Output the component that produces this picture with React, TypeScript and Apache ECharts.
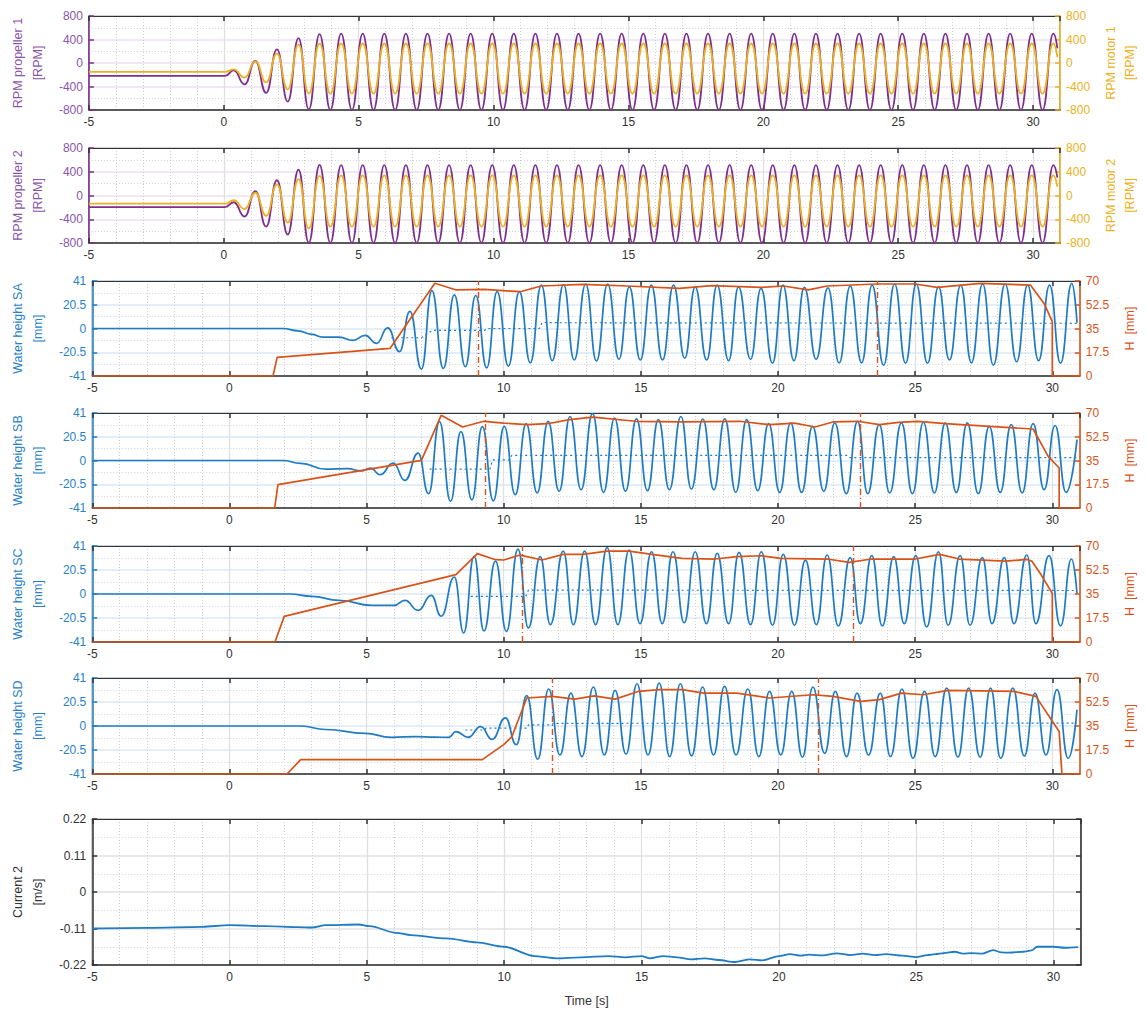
import React, { useEffect, useRef } from "react";
import * as echarts from "echarts";

// ---------- DATA ----------
const xTickLabels = [-5, 0, 5, 10, 15, 20, 25, 30];

// extremum times shared by the four RPM traces
const rpmTimes = [
  -5, 0.05, 0.37, 0.77, 1.17, 1.57, 1.97, 2.37, 2.77, 3.15, 3.55,
  3.95, 4.35, 4.75, 5.15, 5.55, 5.95, 6.35, 6.75, 7.15, 7.55,
  7.95, 8.35, 8.75, 9.15, 9.55, 9.95, 10.35, 10.75, 11.15, 11.55,
  11.95, 12.35, 12.75, 13.15, 13.55, 13.95, 14.35, 14.75, 15.15, 15.55,
  15.95, 16.35, 16.75, 17.15, 17.55, 17.95, 18.35, 18.75, 19.15, 19.55,
  19.95, 20.35, 20.75, 21.15, 21.55, 21.95, 22.35, 22.75, 23.15, 23.55,
  23.95, 24.35, 24.75, 25.15, 25.55, 25.95, 26.35, 26.75, 27.15, 27.55,
  27.95, 28.35, 28.75, 29.15, 29.55, 29.95, 30.35, 30.75, 30.9,
];

const prop1Rpm = [
  -220, -220, -125, -363, 34, -510, 232, -657, 425, -790, 493,
  -798, 500, -798, 500, -798, 500, -798, 500, -798, 500,
  -798, 500, -798, 500, -798, 500, -798, 500, -798, 500,
  -798, 500, -798, 500, -798, 500, -798, 500, -798, 500,
  -798, 500, -798, 500, -798, 500, -798, 500, -798, 500,
  -798, 500, -798, 500, -798, 500, -798, 500, -798, 500,
  -798, 500, -798, 500, -798, 500, -798, 500, -798, 500,
  -798, 500, -798, 500, -798, 500, -798, 500, 250,
];
const motor1Rpm = [
  -150, -150, -110, -250, 28, -330, 160, -450, 312, -520, 330,
  -520, 332, -520, 332, -520, 332, -520, 332, -520, 332,
  -520, 332, -520, 332, -520, 332, -520, 332, -520, 332,
  -520, 332, -520, 332, -520, 332, -520, 332, -520, 332,
  -520, 332, -520, 332, -520, 332, -520, 332, -520, 332,
  -520, 332, -520, 332, -520, 332, -520, 332, -520, 332,
  -520, 332, -520, 332, -520, 332, -520, 332, -520, 332,
  -520, 332, -520, 332, -520, 332, -520, 332, 100,
];
const prop2Rpm = [
  -195, -195, -114, -354, 74, -525, 257, -657, 434, -795, 514,
  -798, 510, -798, 510, -798, 510, -798, 510, -798, 510,
  -798, 510, -798, 510, -798, 510, -798, 510, -798, 510,
  -798, 510, -798, 510, -798, 510, -798, 510, -798, 510,
  -798, 510, -798, 510, -798, 510, -798, 510, -798, 510,
  -798, 510, -798, 510, -798, 510, -798, 510, -798, 510,
  -798, 510, -798, 510, -798, 510, -798, 510, -798, 510,
  -798, 510, -798, 510, -798, 510, -798, 510, 300,
];
const motor2Rpm = [
  -137, -137, -80, -228, 46, -343, 189, -457, 274, -554, 331,
  -525, 340, -525, 340, -525, 340, -525, 340, -525, 340,
  -525, 340, -525, 340, -525, 340, -525, 340, -525, 340,
  -525, 340, -525, 340, -525, 340, -525, 340, -525, 340,
  -525, 340, -525, 340, -525, 340, -525, 340, -525, 340,
  -525, 340, -525, 340, -525, 340, -525, 340, -525, 340,
  -525, 340, -525, 340, -525, 340, -525, 340, -525, 340,
  -525, 340, -525, 340, -525, 340, -525, 340, 150,
];

// water height SA [t, mm]
const saWave = [
  [-5, 0], [1.95, 0], [2.5, -2], [3.0, -5], [3.4, -7.4], [4.0, -7.4], [4.5, -10.2], [4.95, -6],
  [5.37, -12.8], [5.77, 0.6], [6.2, -20], [6.58, 14.8], [7.0, -35], [7.38, 32.7], [7.8, -34.5],
  [8.2, 29], [8.6, -33], [8.98, 28.5], [9.38, -34], [9.76, 31.8], [10.17, -32.4], [10.57, 31.8],
  [10.97, -29.6], [11.37, 37.5], [11.77, -27.8], [12.18, 38], [12.57, -27.2], [12.99, 38.4],
  [13.38, -28], [13.79, 38.4], [14.2, -26.6], [14.58, 36], [14.98, -27.2], [15.38, 37.5],
  [15.79, -27.2], [16.19, 37.5], [16.6, -25.7], [16.98, 36], [17.4, -27.2], [17.78, 37.5],
  [18.2, -27.8], [18.56, 36], [19.0, -26.6], [19.38, 34.7], [19.8, -30], [20.18, 37.5],
  [20.58, -27.8], [20.96, 35.5], [21.39, -26.6], [21.82, 35], [22.23, -29.8], [22.63, 36.5],
  [23.05, -29.6], [23.43, 37.5], [23.85, -31.6], [24.25, 38.4], [24.65, -30], [25.04, 38.4],
  [25.45, -30], [25.85, 36], [26.25, -27.2], [26.66, 37.5], [27.05, -29.6], [27.46, 38.4],
  [27.85, -31.6], [28.28, 38.4], [28.7, -28.7], [29.1, 37.5], [29.5, -27.8], [29.9, 37.5],
  [30.3, -30], [30.71, 39], [30.9, 5],
];
const saMean = [[5.9, -8], [7.0, -8], [7.4, -1.7], [9.3, -1.7], [9.4, 0], [11.3, 0], [11.4, 5], [30.9, 4.5]];
const saH = [
  [-5, 0], [1.59, 0], [1.74, 13.75], [5.86, 20.4], [7.49, 68.3], [8.27, 63.4], [9.3, 63.9],
  [10.6, 62.1], [11.37, 66.3], [12.9, 67.5], [14.5, 66.3], [16.4, 64.6], [17.6, 66.6],
  [19.4, 65.3], [20.2, 66.3], [21.1, 63.4], [21.8, 66.3], [23.6, 67.8], [25.0, 67.8],
  [25.8, 65.3], [27.4, 68.3], [29.2, 67], [29.7, 53.5], [30.0, 40], [30.0, 0], [31, 0],
];
const saMarks = [9.07, 23.6];

// water height SB
const sbWave = [
  [-5, 0], [1.95, 0], [2.6, -2.5], [3.5, -7.4], [4.3, -7], [4.8, -9], [5.15, -6.5], [5.49, -12.3],
  [5.97, -2.3], [6.4, -17.2], [6.88, 6.3], [7.26, -28.7], [7.66, 33.6], [8.06, -35.3], [8.44, 25],
  [8.84, -34], [9.22, 29.3], [9.62, -34.8], [10.02, 29.5], [10.42, -29.5], [10.82, 31.8],
  [11.22, -28], [11.62, 33.8], [12.02, -26.6], [12.42, 38], [12.82, -25.2], [13.24, 40.4],
  [13.64, -27.5], [14.04, 36.7], [14.44, -26.6], [14.84, 36], [15.24, -26], [15.64, 35.2],
  [16.04, -25.2], [16.46, 38], [16.84, -24.6], [17.26, 35.8], [17.66, -25.2], [18.06, 36],
  [18.46, -27.5], [18.86, 35.2], [19.26, -26], [19.66, 31.8], [20.06, -27.5], [20.46, 32.4],
  [20.86, -27.5], [21.26, 29.5], [21.67, -26.6], [22.07, 32.4], [22.49, -28.6], [22.9, 33.8],
  [23.27, -28.6], [23.69, 31], [24.07, -28], [24.5, 32.4], [24.9, -28.6], [25.3, 33],
  [25.7, -28], [26.1, 32.4], [26.5, -27.5], [26.9, 32.4], [27.3, -28.6], [27.7, 29.5],
  [28.1, -27.5], [28.5, 31], [28.9, -28], [29.3, 31.8], [29.7, -25.2], [30.1, 30.2],
  [30.5, -27.5], [30.9, 18],
];
const sbMean = [[7.3, -7.4], [9.5, -7.4], [9.6, 0.5], [10.2, 0.5], [10.3, 4.5], [22.5, 4.5], [22.6, 2.5], [30.9, 2.5]];
const sbH = [
  [-5, 0], [1.65, 0], [1.77, 17.2], [7.0, 35.1], [7.72, 68.3], [8.5, 59.7], [9.28, 63.9],
  [10.0, 62.6], [10.85, 61.4], [11.6, 62.1], [12.4, 65.1], [13.25, 67], [14.8, 63.9],
  [16.5, 63.4], [18.6, 63.9], [19.7, 61.4], [20.6, 62.6], [21.35, 59.7], [22.0, 63.4],
  [22.9, 63.9], [23.7, 61.4], [24.4, 63.1], [25.1, 63.9], [26.1, 62.1], [29.3, 58.2],
  [29.85, 38], [30.25, 29.5], [30.25, 0], [31, 0],
];
const sbMarks = [9.34, 23.0];

// water height SC
const scWave = [
  [-5, 0], [2.2, 0], [3.0, -2], [4.0, -5.4], [5.2, -9.7], [6.0, -9.7], [6.4, -5.4], [6.88, -14],
  [7.36, -1.1], [7.72, -19], [8.2, 14.5], [8.54, -33.3], [8.92, 32.2], [9.28, -31.6], [9.7, 28.1],
  [10.1, -31.9], [10.52, 38.4], [10.9, -29], [11.33, 31.9], [11.7, -26.1], [12.17, 36.7],
  [12.54, -26.1], [12.95, 36.7], [13.35, -26.1], [13.77, 39.6], [14.16, -26.1], [14.57, 37.6],
  [14.97, -25.3], [15.39, 36.1], [15.78, -25.3], [16.17, 36.1], [16.58, -24.5], [16.98, 36.1],
  [17.39, -25.3], [17.78, 34.7], [18.2, -25.3], [18.58, 35.6], [19.0, -26.1], [19.39, 36.1],
  [19.8, -26.7], [20.19, 33.9], [20.6, -26.7], [21.0, 29], [21.4, -26.1], [21.79, 33.3],
  [22.2, -27.3], [22.63, 31], [23.0, -25.3], [23.42, 32.7], [23.8, -27.3], [24.22, 31.9],
  [24.6, -25.3], [25.02, 32.7], [25.42, -28.1], [25.85, 36.1], [26.2, -26.7], [26.64, 32.7],
  [27.0, -26.7], [27.45, 31], [27.8, -25.3], [28.25, 31], [28.6, -25.3], [29.07, 33.3],
  [29.4, -25.3], [29.88, 32.7], [30.3, -27.3], [30.7, 29.9], [30.9, 0.4],
];
const scMean = [[8.8, -2], [10.8, -2], [10.9, 3.3], [30.9, 3]];
const scH = [
  [-5, 0], [1.66, 0], [2.0, 18.7], [8.26, 49.1], [9.04, 64.4], [9.7, 60], [10.0, 59.8],
  [10.6, 63.4], [11.4, 59.8], [12.17, 63.9], [12.9, 63.9], [13.77, 66.3], [14.57, 66.3],
  [15.4, 63.9], [16.5, 61], [17.7, 60.5], [18.5, 62.2], [19.4, 62.9], [20.1, 61],
  [21.8, 60.5], [22.6, 58], [23.4, 60.5], [25.0, 60.5], [25.9, 63.9], [26.6, 60.5],
  [28.3, 59], [29.07, 60.2], [29.25, 59], [29.6, 48.8], [30.0, 35.4], [30.0, 0], [31, 0],
];
const scMarks = [10.66, 22.75];

// water height SD
const sdWave = [
  [-5, 0], [2.6, 0], [3.5, -3], [4.95, -6.3], [5.9, -9.7], [6.8, -9], [7.5, -9.5], [8.0, -9.7],
  [8.26, -4.8], [8.7, -9.7], [9.16, -0.6], [9.58, -11.4], [10.06, 7], [10.46, -16], [10.84, 25.9],
  [11.24, -28.4], [11.64, 31.6], [12.05, -24.7], [12.45, 28.1], [12.85, -26.1], [13.27, 33.3],
  [13.67, -24.7], [14.06, 30.4], [14.46, -24.1], [14.86, 36.1], [15.26, -24.7], [15.67, 36.7],
  [16.05, -26.1], [16.44, 36.1], [16.85, -25.5], [17.25, 33.3], [17.65, -24.7], [18.05, 33.9],
  [18.47, -24.7], [18.9, 31.6], [19.3, -26.1], [19.69, 29.6], [20.1, -24.7], [20.5, 29.6],
  [20.89, -26.7], [21.27, 33.3], [21.7, -23.3], [22.09, 29.6], [22.5, -26.1], [22.88, 28.1],
  [23.3, -24.7], [23.73, 28.1], [24.1, -26.1], [24.52, 31.6], [24.92, -27.6], [25.34, 29.6],
  [25.73, -26.1], [26.15, 32.4], [26.56, -26.7], [26.95, 32.4], [27.37, -26.7], [27.75, 32.4],
  [28.12, -27.6], [28.56, 32.4], [28.98, -25.5], [29.37, 28.1], [29.77, -24.7], [30.17, 31],
  [30.58, -27.6], [30.9, 13.9],
];
const sdMean = [[8.6, -3.4], [9.3, -3.4], [9.35, -1.9], [10.85, -1.9], [10.9, 0.9], [11.75, 0.9], [11.8, 2.3], [30.9, 2.5]];
const sdH = [
  [-5, 0], [2.1, 0], [2.6, 10.5], [9.22, 10.5], [10.0, 21.4], [10.3, 27.3], [10.84, 55.4],
  [11.76, 56.6], [12.6, 54.6], [13.3, 57], [14.06, 54.6], [14.9, 60.2], [15.7, 61.5],
  [16.5, 61.5], [17.3, 59], [18.5, 59], [19.7, 55.4], [21.27, 57.8], [22.0, 56.6],
  [23.0, 53], [23.7, 54.2], [24.5, 59], [25.3, 57.8], [26.2, 61], [28.6, 60.2],
  [29.4, 56.6], [30.25, 31], [30.35, 0], [31, 0],
];
const sdMarks = [11.76, 21.46];

// current 2 [t, m/s]
const current2 = [
  [-5, -0.11], [-3, -0.108], [-1, -0.105], [0, -0.1], [1.3, -0.103], [2.5, -0.106], [3.0, -0.107],
  [3.5, -0.1], [4.7, -0.098], [5.1, -0.103], [6.07, -0.123], [6.6, -0.13], [7.9, -0.14],
  [9.0, -0.152], [10.0, -0.165], [11.1, -0.193], [11.9, -0.2], [12.8, -0.197], [13.8, -0.193],
  [14.4, -0.197], [15.0, -0.193], [15.3, -0.2], [15.8, -0.193], [16.3, -0.197], [16.8, -0.203],
  [17.3, -0.2], [17.8, -0.205], [18.4, -0.211], [18.95, -0.203], [19.4, -0.206], [20.0, -0.193],
  [20.4, -0.187], [20.8, -0.192], [21.1, -0.189], [21.6, -0.191], [22.1, -0.185], [22.6, -0.19],
  [23.05, -0.186], [23.5, -0.19], [23.9, -0.187], [24.5, -0.192], [25.0, -0.196], [25.4, -0.19],
  [25.7, -0.187], [26.0, -0.184], [26.4, -0.18], [26.7, -0.186], [27.0, -0.184], [27.4, -0.186],
  [27.8, -0.175], [28.1, -0.182], [28.4, -0.183], [28.9, -0.18], [29.2, -0.176], [29.4, -0.165],
  [30.0, -0.165], [30.4, -0.168], [30.9, -0.166],
];

// ---------- STYLE ----------
const FONT = "Liberation Sans, Arial, Helvetica, sans-serif";
const PURPLE = "#7E2F8E";
const PURPLE_TXT = "#8a55a8";
const YELLOW = "#EDB120";
const BLUE = "#1f7cc4";
const BLUE_TXT = "#2a82c6";
const RED = "#D95319";
const DARK = "#333333";

const panels = [
  { top: 16, height: 94 },
  { top: 148, height: 95 },
  { top: 281, height: 95 },
  { top: 413, height: 95 },
  { top: 546, height: 96 },
  { top: 678, height: 96 },
  { top: 819, height: 146 },
];

function pairs(times: number[], vals: number[]) {
  return times.map((t, i) => [t, vals[i]]);
}

function buildOption() {
  const grid = panels.map((p) => ({
    left: 83,
    right: 66,
    top: p.top,
    height: p.height,
    show: true,
    borderColor: DARK,
    borderWidth: 1,
    containLabel: false,
  }));

  const xAxis: any[] = [];
  panels.forEach((_, i) => {
    // minor grid (1 s)
    xAxis.push({
      type: "value", gridIndex: i, min: -5, max: 31, interval: 1, position: "bottom",
      axisLine: { show: false, onZero: false }, axisTick: { show: false }, axisLabel: { show: false },
      splitLine: { show: true, lineStyle: { color: "#cfcfcf", type: [1, 2], width: 1 } },
    });
    // main bottom axis
    xAxis.push({
      type: "value", gridIndex: i, min: -5, max: 31, interval: 5, position: "bottom",
      axisLine: { show: true, onZero: false, lineStyle: { color: DARK, width: 1.5 } },
      axisTick: { show: true, inside: true, length: 5, lineStyle: { color: DARK, width: 1.5 } },
      axisLabel: {
        show: true, color: "#333", fontSize: 12, margin: 6, fontFamily: FONT,
        showMaxLabel: false, showMinLabel: true,
        formatter: (v: number) => (xTickLabels.indexOf(Math.round(v)) >= 0 && Math.abs(v - Math.round(v)) < 1e-6 ? String(Math.round(v)) : ""),
      },
      splitLine: { show: true, lineStyle: { color: "#e0e0e0", width: 1.3 } },
      name: i === 6 ? "Time [s]" : "",
      nameLocation: "middle",
      nameGap: 29,
      nameTextStyle: { color: "#333", fontSize: 12.5, fontFamily: FONT },
    });
    // top ticks
    xAxis.push({
      type: "value", gridIndex: i, min: -5, max: 31, interval: 5, position: "top",
      axisLine: { show: true, onZero: false, lineStyle: { color: DARK, width: 1 } },
      axisTick: { show: true, inside: true, length: 5, lineStyle: { color: DARK, width: 1.5 } },
      axisLabel: { show: false }, splitLine: { show: false },
    });
  });

  const leftAxis = (i: number, min: number, max: number, interval: number, color: string, txt: string, grid: string, name: string, gap: number) => ({
    type: "value", gridIndex: i, position: "left", min, max, interval,
    axisLine: { show: true, onZero: false, lineStyle: { color, width: 1.5 } },
    axisTick: { show: true, inside: true, length: 5, lineStyle: { color, width: 1.5 } },
    axisLabel: { color: txt, fontSize: 12, margin: 6, fontFamily: FONT },
    splitLine: { show: true, lineStyle: { color: grid, width: 1.5 } },
    minorTick: { show: false, splitNumber: 2 },
    minorSplitLine: { show: true, lineStyle: { color: "#d2d2d2", type: [1, 2], width: 1 } },
    name, nameLocation: "middle", nameRotate: 90, nameGap: gap,
    nameTextStyle: { color: txt, fontSize: 12.5, lineHeight: 20, fontFamily: FONT, align: "center" },
  });
  const rightAxis = (i: number, min: number, max: number, interval: number, color: string, name: string, showLabel: boolean) => ({
    type: "value", gridIndex: i, position: "right", min, max, interval,
    axisLine: { show: true, onZero: false, lineStyle: { color, width: 1.5 } },
    axisTick: { show: true, inside: true, length: 5, lineStyle: { color, width: 1.5 } },
    axisLabel: { show: showLabel, color, fontSize: 12, margin: 6, fontFamily: FONT },
    splitLine: { show: false },
    name, nameLocation: "middle", nameRotate: 90, nameGap: 38,
    nameTextStyle: { color, fontSize: 12.5, lineHeight: 19, fontFamily: FONT, align: "center" },
  });

  const yAxis: any[] = [
    leftAxis(0, -800, 800, 400, PURPLE, PURPLE_TXT, "#ebe0f1", "RPM propeller 1\n[RPM]", 36),
    rightAxis(0, -800, 800, 400, YELLOW, "RPM motor 1\n[RPM]", true),
    leftAxis(1, -800, 800, 400, PURPLE, PURPLE_TXT, "#ebe0f1", "RPM propeller 2\n[RPM]", 36),
    rightAxis(1, -800, 800, 400, YELLOW, "RPM motor 2\n[RPM]", true),
    leftAxis(2, -41, 41, 20.5, BLUE, BLUE_TXT, "#dbe9f6", "Water height SA\n[mm]", 41),
    rightAxis(2, 0, 70, 17.5, RED, "H  [mm]", true),
    leftAxis(3, -41, 41, 20.5, BLUE, BLUE_TXT, "#dbe9f6", "Water height SB\n[mm]", 41),
    rightAxis(3, 0, 70, 17.5, RED, "H  [mm]", true),
    leftAxis(4, -41, 41, 20.5, BLUE, BLUE_TXT, "#dbe9f6", "Water height SC\n[mm]", 41),
    rightAxis(4, 0, 70, 17.5, RED, "H  [mm]", true),
    leftAxis(5, -41, 41, 20.5, BLUE, BLUE_TXT, "#dbe9f6", "Water height SD\n[mm]", 41),
    rightAxis(5, 0, 70, 17.5, RED, "H  [mm]", true),
    leftAxis(6, -0.22, 0.22, 0.11, DARK, "#333", "#e2e2e2", "Current 2\n[m/s]", 38),
    rightAxis(6, -0.22, 0.22, 0.11, DARK, "", false),
  ];

  const wave = (data: any, xi: number, yi: number, color: string, width = 1.7) => ({
    type: "line", xAxisIndex: xi, yAxisIndex: yi, data, showSymbol: false, symbol: "none",
    smooth: 0.5, smoothMonotone: "x", clip: true, silent: true,
    lineStyle: { color, width },
  });
  const mean = (data: any, xi: number, yi: number) => ({
    type: "line", xAxisIndex: xi, yAxisIndex: yi, data, showSymbol: false, symbol: "none",
    smooth: false, clip: true, silent: true,
    lineStyle: { color: BLUE, width: 1.2, type: [2, 3] },
  });
  const hLine = (data: any, xi: number, yi: number, marks: number[]) => ({
    type: "line", xAxisIndex: xi, yAxisIndex: yi, data, showSymbol: false, symbol: "none",
    smooth: false, clip: true, silent: true,
    lineStyle: { color: RED, width: 1.7 },
    markLine: {
      silent: true, symbol: ["none", "none"], label: { show: false },
      lineStyle: { color: RED, width: 1.4, type: [6, 3, 1, 3] },
      data: marks.map((t) => ({ xAxis: t })),
    },
  });

  const series: any[] = [
    wave(pairs(rpmTimes, prop1Rpm), 1, 0, PURPLE, 1.8),
    wave(pairs(rpmTimes, motor1Rpm), 1, 1, YELLOW, 1.8),
    wave(pairs(rpmTimes, prop2Rpm), 4, 2, PURPLE, 1.8),
    wave(pairs(rpmTimes, motor2Rpm), 4, 3, YELLOW, 1.8),
    wave(saWave, 7, 4, BLUE), mean(saMean, 7, 4), hLine(saH, 7, 5, saMarks),
    wave(sbWave, 10, 6, BLUE), mean(sbMean, 10, 6), hLine(sbH, 10, 7, sbMarks),
    wave(scWave, 13, 8, BLUE), mean(scMean, 13, 8), hLine(scH, 13, 9, scMarks),
    wave(sdWave, 16, 10, BLUE), mean(sdMean, 16, 10), hLine(sdH, 16, 11, sdMarks),
    { ...wave(current2, 19, 12, BLUE, 1.8), smooth: 0.3 },
  ];

  return {
    animation: false,
    backgroundColor: "#ffffff",
    textStyle: { fontFamily: FONT },
    grid,
    xAxis,
    yAxis,
    series,
  };
}

export default function App() {
  const ref = useRef<HTMLDivElement>(null);
  useEffect(() => {
    document.body.style.margin = "0";
    const chart = echarts.init(ref.current as HTMLDivElement, undefined, { renderer: "svg" });
    chart.setOption(buildOption() as any);
    return () => {
      chart.dispose();
    };
  }, []);
  return (
    <div
      ref={ref}
      style={{ position: "fixed", left: 0, top: 0, width: 1147, height: 1014, background: "#fff" }}
    />
  );
}
